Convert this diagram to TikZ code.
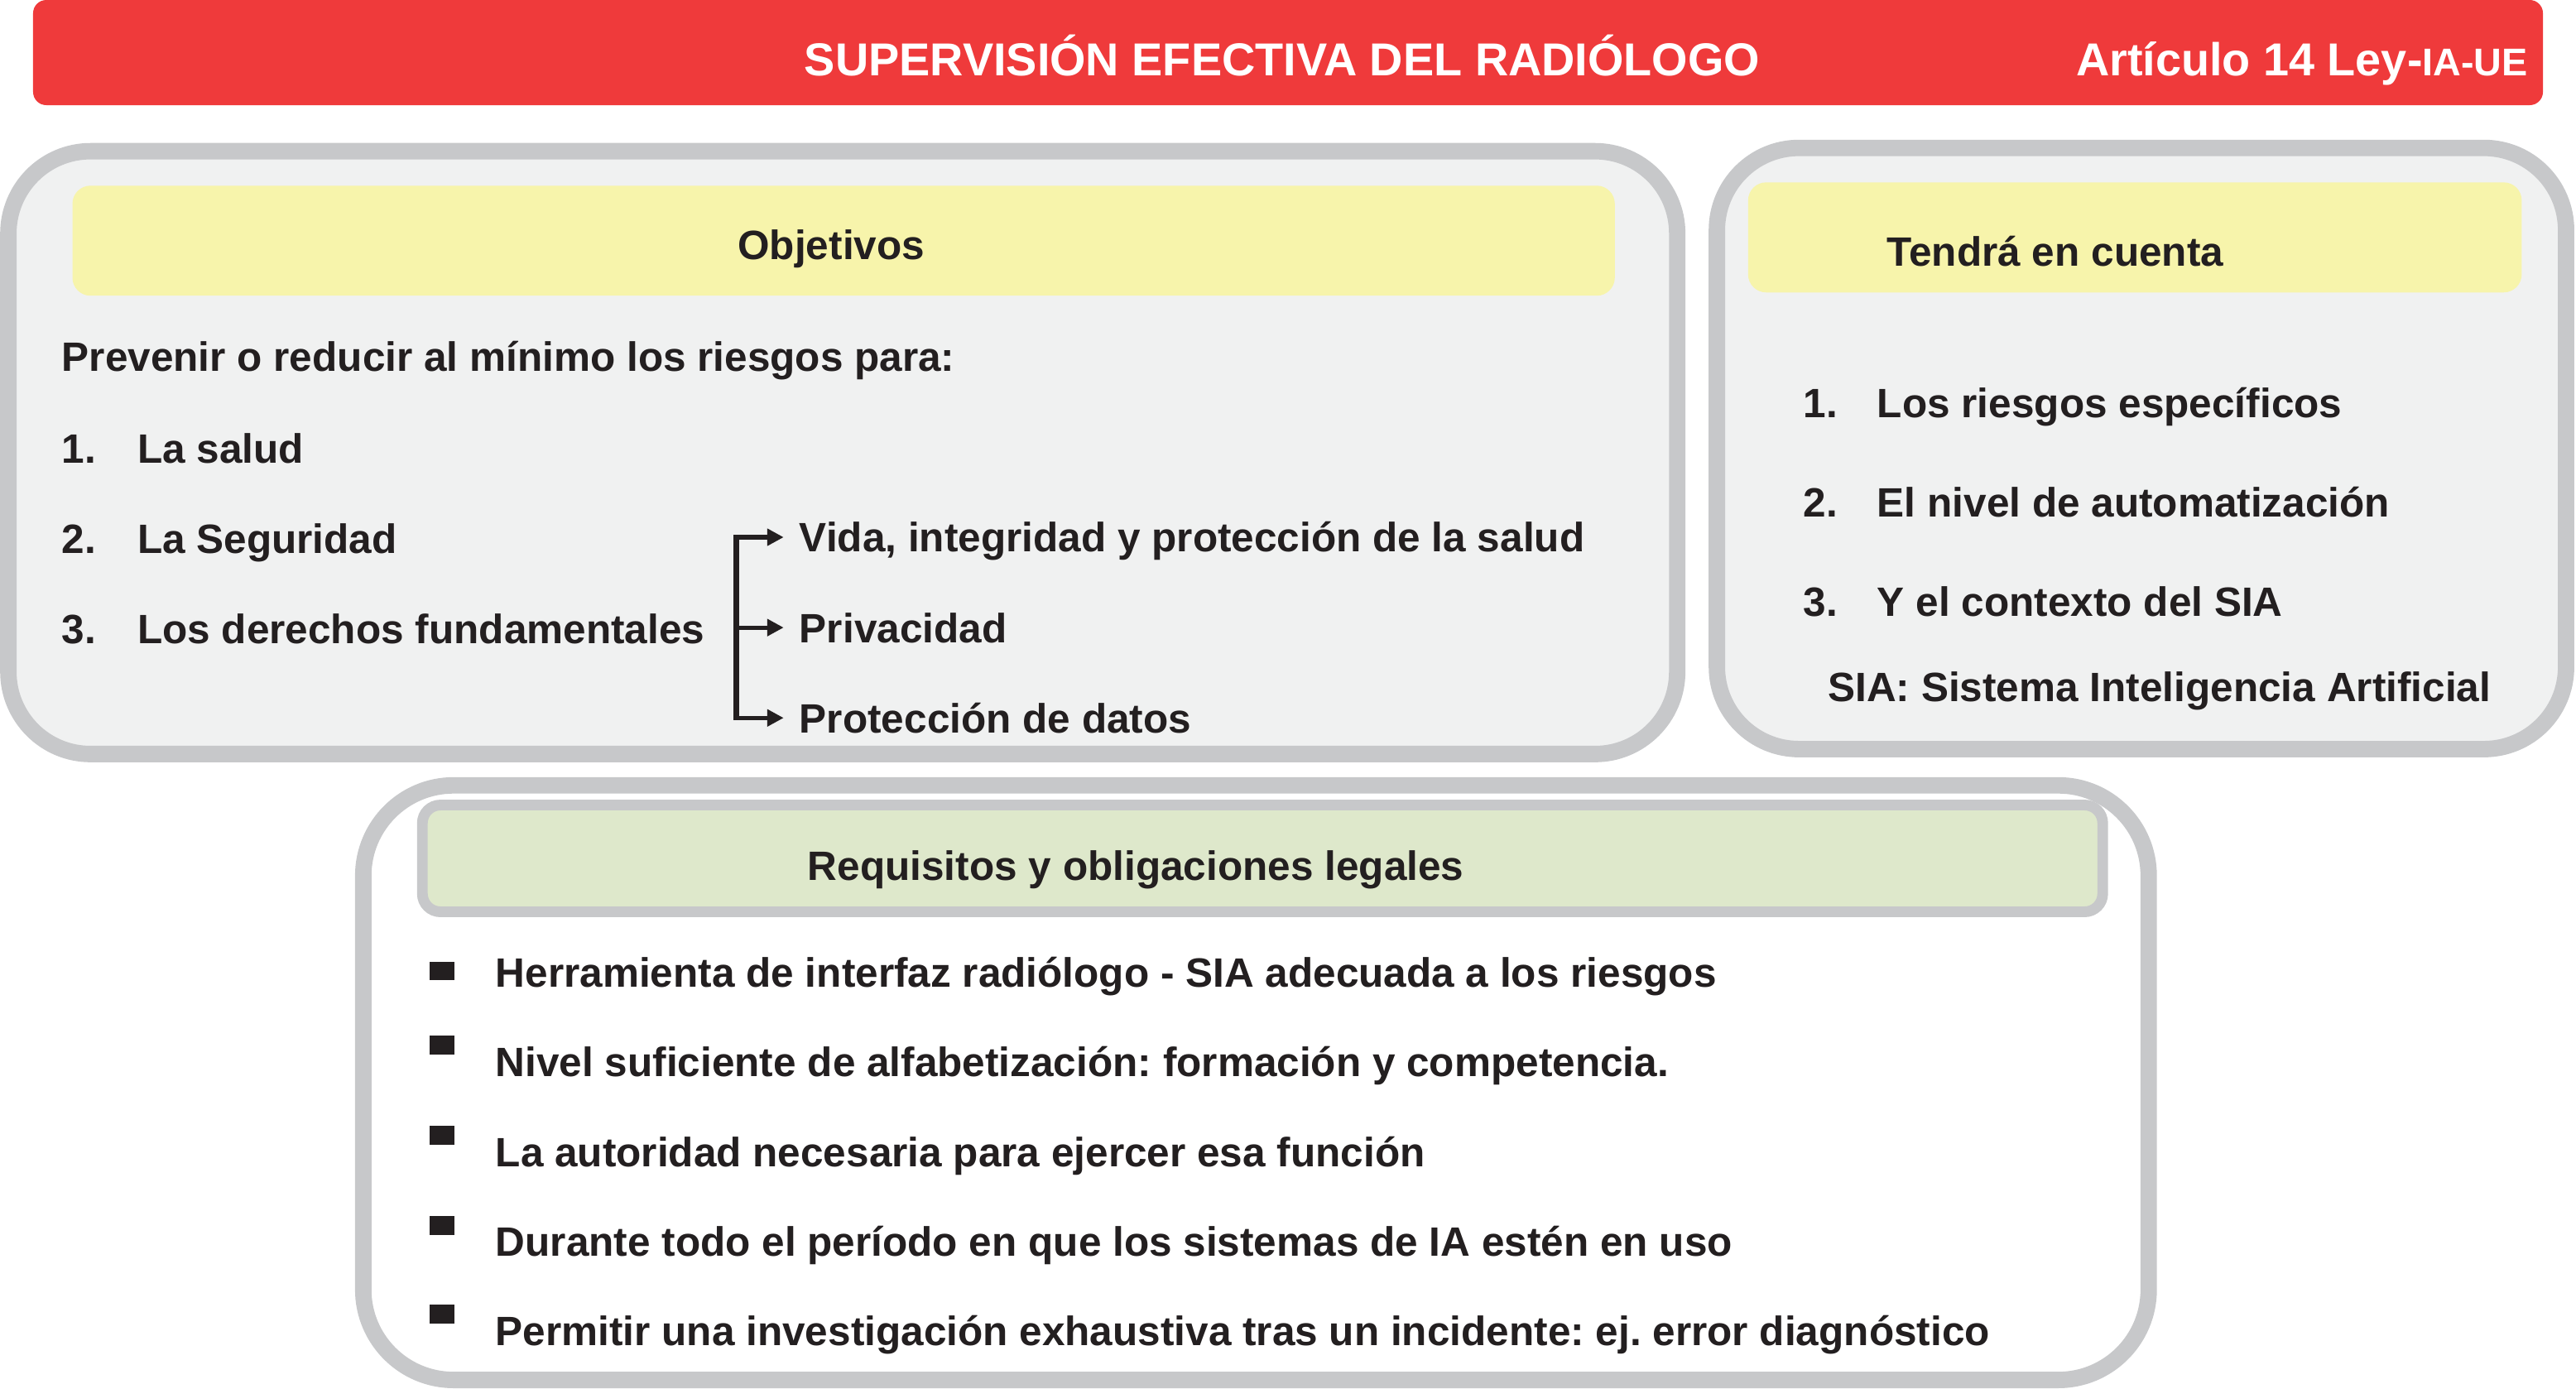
\documentclass[tikz,border=0pt]{standalone}
\usepackage{fontspec}
\setmainfont{Liberation Sans}
\usepackage{tikz}
\usetikzlibrary{arrows.meta,positioning}
\definecolor{sv-red}{HTML}{EF3A3B}
\definecolor{sv-frame}{HTML}{C7C8CA}
\definecolor{sv-panel}{HTML}{F0F1F1}
\definecolor{sv-yellow}{HTML}{F7F4AB}
\definecolor{sv-green}{HTML}{DEE8CB}
\definecolor{sv-ink}{HTML}{231F20}
\frenchspacing

\begin{document}
\begin{tikzpicture}[x=0.02cm, y=-0.02cm, node distance=1.1cm, thick, >={Triangle[length=0.2cm,width=0.2cm]},
    txt/.style={anchor=west, inner sep=0pt, text=sv-ink, font=\fontsize{14.2}{16}\selectfont\bfseries, text height=0.46cm, text depth=0.1cm},
    panel/.style={draw=sv-frame, line width=0.2cm, rounded corners=1cm},
    head/.style={rounded corners=0.22cm, inner sep=0pt},
    sq/.style={fill=sv-ink, inner sep=0pt, minimum width=0.3cm, minimum height=0.23cm}]
    \useasboundingbox (0,0) rectangle (1568,845);

    % title bar
    \node[fill=sv-red, rounded corners=0.16cm, minimum width=30.56cm, minimum height=1.28cm, inner sep=0pt] (bar) at (784,32) {};
    \node[txt, text=white, font=\fontsize{16}{18}\selectfont\bfseries] (title) at (489,37) {SUPERVISIÓN EFECTIVA DEL RADIÓLOGO};
    \node[txt, text=white, font=\fontsize{16}{18}\selectfont\bfseries] (art) at (1263,37) {Artículo 14 Ley-{\fontsize{13.4}{16}\selectfont IA-UE}};

    % panels
    \node[panel, fill=sv-panel, minimum width=20.32cm, minimum height=7.34cm] (objbox) at (513,275.5) {};
    \node[panel, fill=sv-panel, minimum width=10.34cm, minimum height=7.32cm] (tcbox) at (1303.5,273) {};
    \node[panel, fill=white, minimum width=21.74cm, minimum height=7.24cm, rounded corners=1.1cm] (reqbox) at (764.5,659) {};

    % objetivos
    \node[head, fill=sv-yellow, minimum width=18.78cm, minimum height=1.34cm] (objhead) at (513.5,146.5) {};
    \node[txt, anchor=center] (objtitle) at (506,149) {Objetivos};
    \node[txt] (prev) at (37,217) {Prevenir o reducir al mínimo los riesgos para:};
    \node[txt] (o1) at (37,273) {\makebox[0.92cm][l]{1.}La salud};
    \node[below=1.1cm of o1.west, txt] (o2) {\makebox[0.92cm][l]{2.}La Seguridad};
    \node[below=1.1cm of o2.west, txt] (o3) {\makebox[0.92cm][l]{3.}Los derechos fundamentales};
    \node[txt, inner xsep=0.18cm] (vida) at (477,327) {Vida, integridad y protección de la salud};
    \node[below=1.1cm of vida.west, txt, inner xsep=0.18cm] (priv) {Privacidad};
    \node[below=1.1cm of priv.west, txt, inner xsep=0.18cm] (datos) {Protección de datos};
    \coordinate (brk) at (448,0);
    \draw[sv-ink, line width=2pt] ([yshift=0.75pt]brk |- vida) -- ([yshift=-0.75pt]brk |- datos);
    \draw[->, sv-ink, line width=1.5pt] (brk |- vida) -- (vida);
    \draw[->, sv-ink, line width=1.5pt] (brk |- priv) -- (priv);
    \draw[->, sv-ink, line width=1.5pt] (brk |- datos) -- (datos);

    % tendra en cuenta
    \node[head, fill=sv-yellow, minimum width=9.42cm, minimum height=1.34cm] (tchead) at (1299.5,144.5) {};
    \node[txt] (tctitle) at (1148,153) {Tendrá en cuenta};
    \node[txt] (t1) at (1097,245) {\makebox[0.9cm][l]{1.}Los riesgos específicos};
    \node[below=1.21cm of t1.west, txt] (t2) {\makebox[0.9cm][l]{2.}El nivel de automatización};
    \node[below=1.21cm of t2.west, txt] (t3) {\makebox[0.9cm][l]{3.}Y el contexto del SIA};
    \node[txt] (sia) at (1112,418) {SIA: Sistema Inteligencia Artificial};

    % requisitos
    \node[head, draw=sv-frame, line width=0.13cm, fill=sv-green, minimum width=20.46cm, minimum height=1.3cm] (reqhead) at (768.5,522.5) {};
    \node[txt] (reqtitle) at (491,527) {Requisitos y obligaciones legales};
    \node[txt] (r1) at (301,592) {Herramienta de interfaz radiólogo - SIA adecuada a los riesgos};
    \node[below=1.09cm of r1.west, txt] (r2) {Nivel suficiente de alfabetización: formación y competencia.};
    \node[below=1.09cm of r2.west, txt] (r3) {La autoridad necesaria para ejercer esa función};
    \node[below=1.09cm of r3.west, txt] (r4) {Durante todo el período en que los sistemas de IA estén en uso};
    \node[below=1.09cm of r4.west, txt] (r5) {Permitir una investigación exhaustiva tras un incidente: ej. error diagnóstico};
    \node[sq] (q1) at (269,591) {};
    \node[sq] (q2) at (269,636) {};
    \node[sq] (q3) at (269,691) {};
    \node[sq] (q4) at (269,746) {};
    \node[sq] (q5) at (269,800) {};
\end{tikzpicture}
\end{document}
